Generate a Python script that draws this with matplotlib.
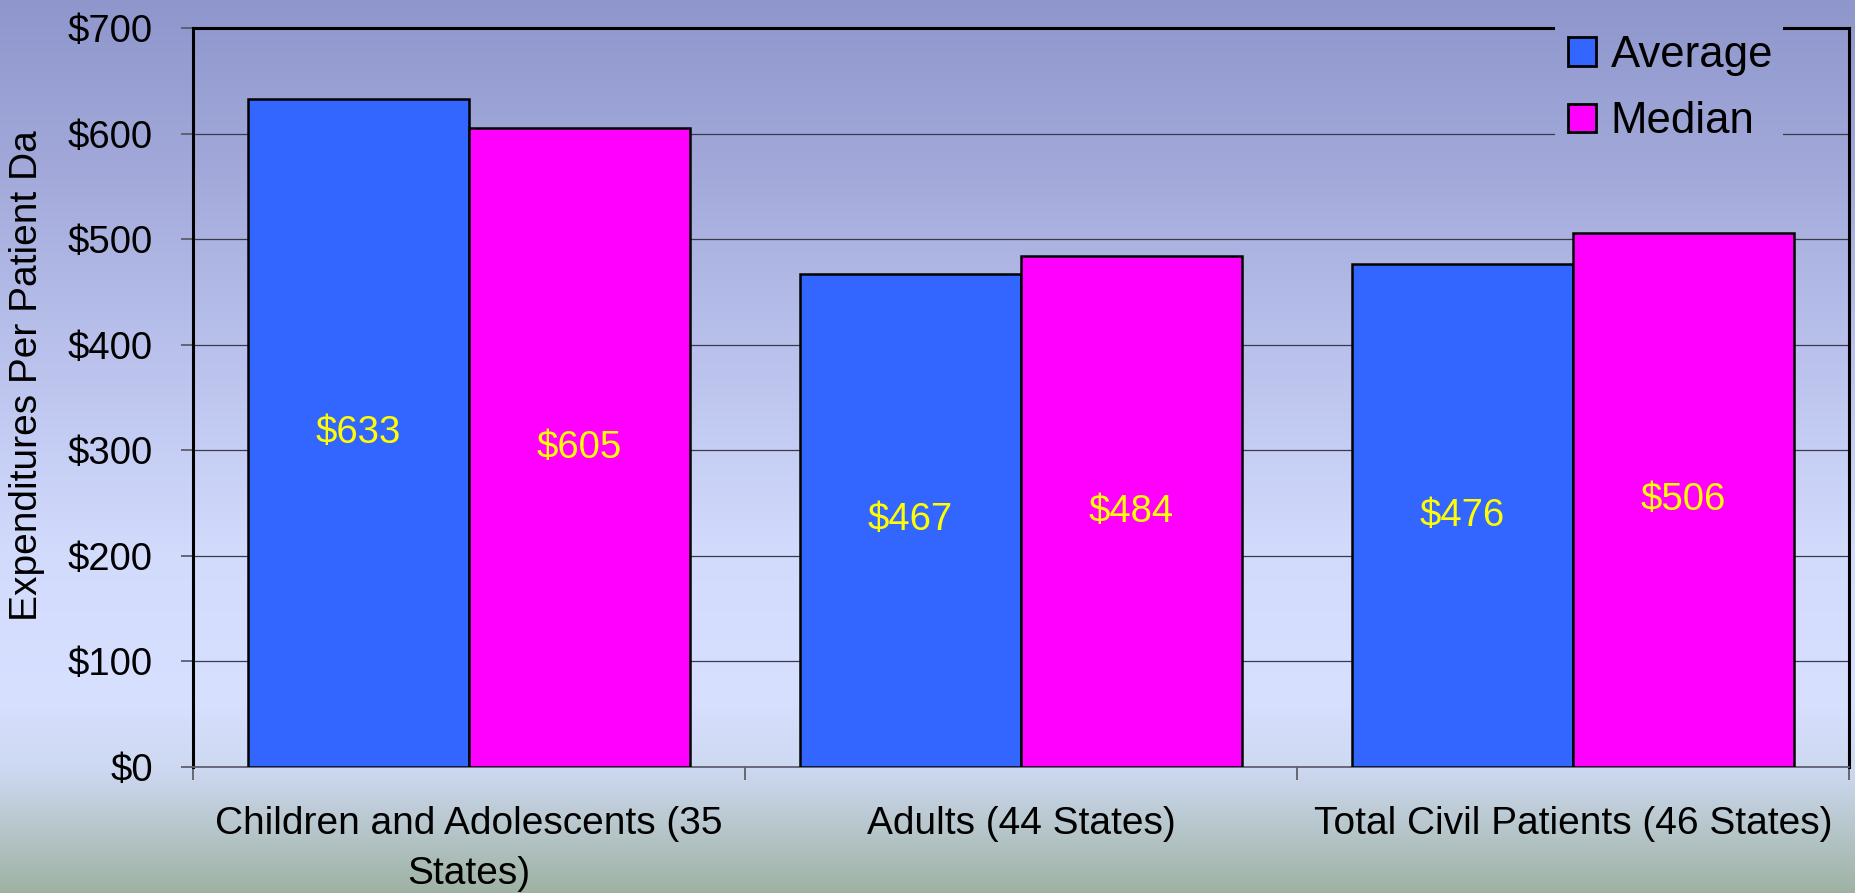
import numpy as np
import matplotlib
matplotlib.use("Agg")
import matplotlib.pyplot as plt

plt.rcParams['font.family'] = ['Liberation Sans', 'DejaVu Sans']

# chart data
categories = ['Children and Adolescents (35\nStates)', 'Adults (44 States)',
              'Total Civil Patients (46 States)']
average = [633, 467, 476]
median = [605, 484, 506]
yticks = [0, 100, 200, 300, 400, 500, 600, 700]

W, H = 1856, 893
fig = plt.figure(figsize=(W / 100, H / 100), dpi=100)

# background gradient (rows in pixels, rgb)
stops_y = [0, 150, 350, 550, 700, 770, 893]
stops_c = np.array([(143, 150, 204), (160, 167, 216), (185, 193, 236),
                    (210, 219, 252), (215, 224, 255), (205, 216, 240),
                    (158, 178, 162)]) / 255.0
rows = np.arange(H)
grad = np.stack([np.interp(rows, stops_y, stops_c[:, k]) for k in range(3)], axis=1)
grad_img = grad[:, None, :]

bg = fig.add_axes([0, 0, 1, 1], zorder=-10)
bg.imshow(grad_img, aspect='auto', extent=[0, 1, 0, 1])
bg.axis('off')

ax = fig.add_axes([193 / W, 1 - 767 / H, (1849 - 193) / W, (767 - 28) / H])
ax.patch.set_alpha(0)

x = np.arange(len(categories))
bw = 0.4
b1 = ax.bar(x - bw / 2, average, bw, color='#3366ff', edgecolor='black', linewidth=1.8,
            label='Average', zorder=3)
b2 = ax.bar(x + bw / 2, median, bw, color='#ff00ff', edgecolor='black', linewidth=1.8,
            label='Median', zorder=3)

for bars, vals in ((b1, average), (b2, median)):
    for r, v in zip(bars, vals):
        ax.text(r.get_x() + r.get_width() / 2, v / 2, '$%d' % v, ha='center', va='center',
                color='#ffff00', fontsize=27.5, zorder=4)

ax.set_xlim(-0.5, len(categories) - 0.5)
ax.set_ylim(0, 700)
ax.set_yticks(yticks)
ax.set_yticklabels(['$%d' % t for t in yticks])
ax.yaxis.grid(True, color='#3a3a48', linewidth=0.9, zorder=0)
ax.set_axisbelow(True)

ax.set_xticks(x)
ax.set_xticklabels(categories, fontsize=28, linespacing=1.5)
ax.set_xticks(np.arange(len(categories) + 1) - 0.5, minor=True)
ax.tick_params(axis='x', which='major', length=0, pad=28)
ax.tick_params(axis='x', which='minor', length=9, width=1.2, color='#555560', direction='out')
ax.tick_params(axis='y', length=9, width=1.2, color='#555560', pad=20, labelsize=27.5)

for s in ('left', 'top', 'right'):
    ax.spines[s].set_color('black')
    ax.spines[s].set_linewidth(2.2)
ax.spines['bottom'].set_color('#606070')
ax.spines['bottom'].set_linewidth(1.3)

fig.text(27 / W, 1 - 376 / H, 'Expenditures Per Patient Da', rotation=90,
         ha='center', va='center', fontsize=28)

# legend sits on a patch of the background gradient
lx0, lx1, ly0, ly1 = 1555, 1783, 4, 142
cover = fig.add_axes([lx0 / W, 1 - ly1 / H, (lx1 - lx0) / W, (ly1 - ly0) / H], zorder=4)
cover.imshow(grad_img[ly0:ly1], aspect='auto', extent=[0, 1, 0, 1])
cover.axis('off')

leg = fig.legend(handles=[b1, b2], loc='upper left', bbox_to_anchor=(1568 / W, 1 - 35 / H),
                 frameon=False, fontsize=31.5, handlelength=0.64, handleheight=0.64,
                 handletextpad=0.33, labelspacing=0.58, borderpad=0, borderaxespad=0)
leg.set_zorder(5)
for h in leg.legend_handles:
    h.set_linewidth(2)

fig.savefig('out.png', dpi=100)
